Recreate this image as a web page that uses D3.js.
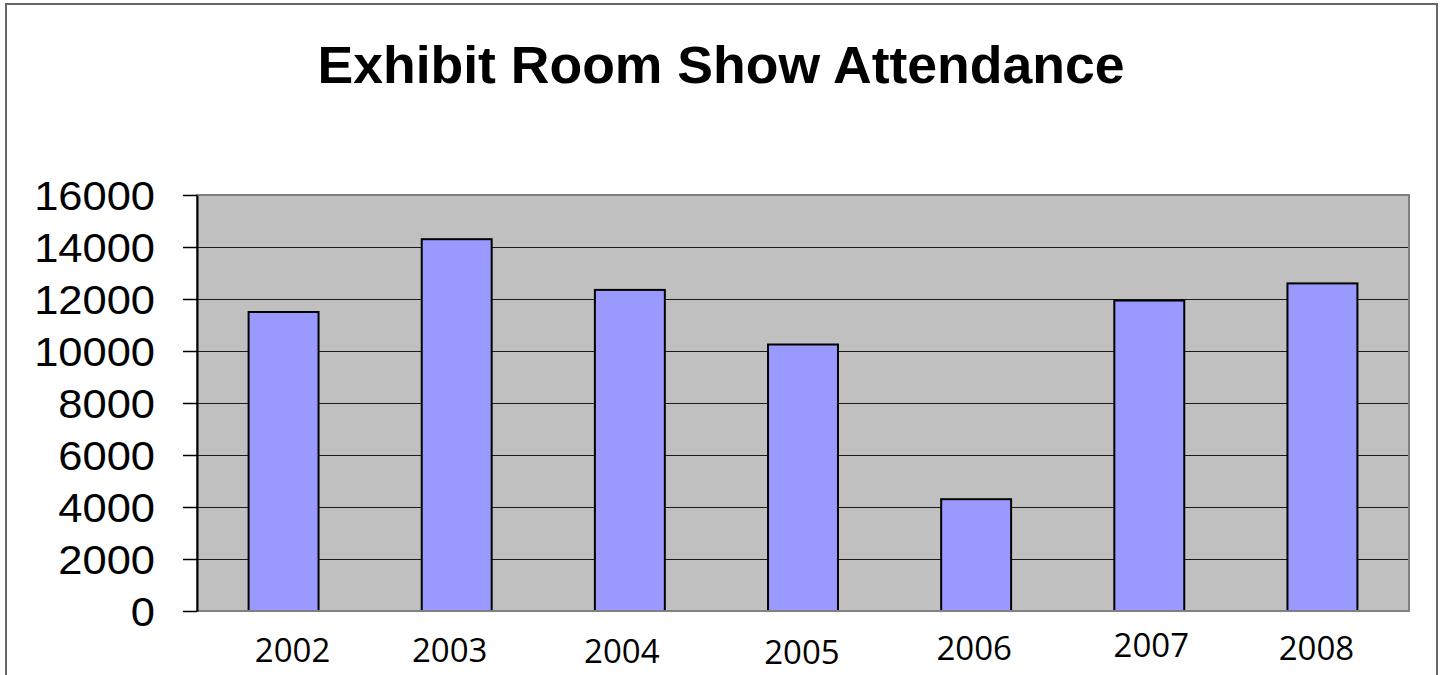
<!DOCTYPE html>
<html>
<head>
<meta charset="utf-8">
<script src="https://cdn.jsdelivr.net/npm/d3@7/dist/d3.min.js"></script>
<style>
  html, body { margin: 0; padding: 0; background: #fff; }
  svg { display: block; }
</style>
</head>
<body>
<svg id="chart" width="1445" height="675"></svg>
<script>
// ---- data ----
const chartTitle = "Exhibit Room Show Attendance";
const years = ["2002", "2003", "2004", "2005", "2006", "2007", "2008"];
const attendance = [11500, 14300, 12350, 10250, 4300, 11940, 12600];
const yTickValues = [0, 2000, 4000, 6000, 8000, 10000, 12000, 14000, 16000];
// small per-label nudges seen in the reference (styling only)
const labelNudgeX = [9, -7, -8, -1, -2, 2, -6];
const labelNudgeY = [2, 2, 3, 4, 0, -3, 0];

// ---- layout ----
const W = 1445, H = 675;
const plot = { left: 197, top: 195, right: 1409, bottom: 611 };

const svg = d3.select("#chart");

// outer frame
svg.append("rect")
  .attr("x", 6).attr("y", 4)
  .attr("width", 1431).attr("height", 700)
  .attr("fill", "#fff")
  .attr("stroke", "#666").attr("stroke-width", 2);

// title
const titleScale = 1.05;
svg.append("text")
  .attr("x", 721 / titleScale).attr("y", 83)
  .attr("transform", `scale(${titleScale},1)`)
  .attr("text-anchor", "middle")
  .attr("font-family", "'Liberation Sans', Arial, sans-serif")
  .attr("font-weight", "bold")
  .attr("font-size", 51)
  .attr("fill", "#000")
  .text(chartTitle);

const x = d3.scaleBand()
  .domain(years)
  .range([plot.left, plot.right])
  .paddingInner(0.596)
  .paddingOuter(0.298);

const y = d3.scaleLinear()
  .domain([0, 16000])
  .range([plot.bottom, plot.top]);

// plot background
svg.append("rect")
  .attr("x", plot.left).attr("y", plot.top)
  .attr("width", plot.right - plot.left)
  .attr("height", plot.bottom - plot.top)
  .attr("fill", "#c0c0c0");

// gridlines
const grid = svg.append("g")
  .attr("transform", `translate(${plot.left},0)`)
  .call(d3.axisLeft(y).tickValues(yTickValues).tickSize(-(plot.right - plot.left)).tickFormat(""));
grid.select(".domain").remove();
grid.selectAll("line").attr("stroke", "#1a1a1a").attr("stroke-width", 1.2);

// bars
svg.append("g").selectAll("rect")
  .data(years.map((yr, i) => ({ yr, v: attendance[i] })))
  .join("rect")
  .attr("x", d => x(d.yr))
  .attr("y", d => y(d.v))
  .attr("width", x.bandwidth())
  .attr("height", d => y(0) - y(d.v))
  .attr("fill", "#9999ff")
  .attr("stroke", "#000")
  .attr("stroke-width", 2);

// plot border
svg.append("rect")
  .attr("x", plot.left).attr("y", plot.top)
  .attr("width", plot.right - plot.left)
  .attr("height", plot.bottom - plot.top)
  .attr("fill", "none")
  .attr("stroke", "#808080").attr("stroke-width", 2);

// y axis
const yLabelScale = 1.087;
const yAxis = svg.append("g")
  .attr("transform", `translate(${plot.left},0)`)
  .call(d3.axisLeft(y).tickValues(yTickValues).tickSize(14).tickSizeOuter(0).tickFormat(d3.format("d")));
yAxis.select(".domain").attr("stroke", "#000").attr("stroke-width", 2);
yAxis.selectAll(".tick line").attr("stroke", "#000").attr("stroke-width", 1.5);
yAxis.selectAll(".tick text")
  .attr("font-family", "'Liberation Sans', Arial, sans-serif")
  .attr("font-size", 40)
  .attr("fill", "#000")
  .attr("text-anchor", "end")
  .attr("dy", "0.35em")
  .attr("x", -42 / yLabelScale)
  .attr("transform", `scale(${yLabelScale},1)`);

// x labels
svg.append("g").selectAll("text")
  .data(years)
  .join("text")
  .attr("x", (d, i) => x(d) + x.bandwidth() / 2 + labelNudgeX[i])
  .attr("y", (d, i) => 660 + labelNudgeY[i])
  .attr("text-anchor", "middle")
  .attr("font-family", "'Open Sans', sans-serif")
  .attr("font-size", 33)
  .attr("fill", "#000")
  .text(d => d);
</script>
</body>
</html>
